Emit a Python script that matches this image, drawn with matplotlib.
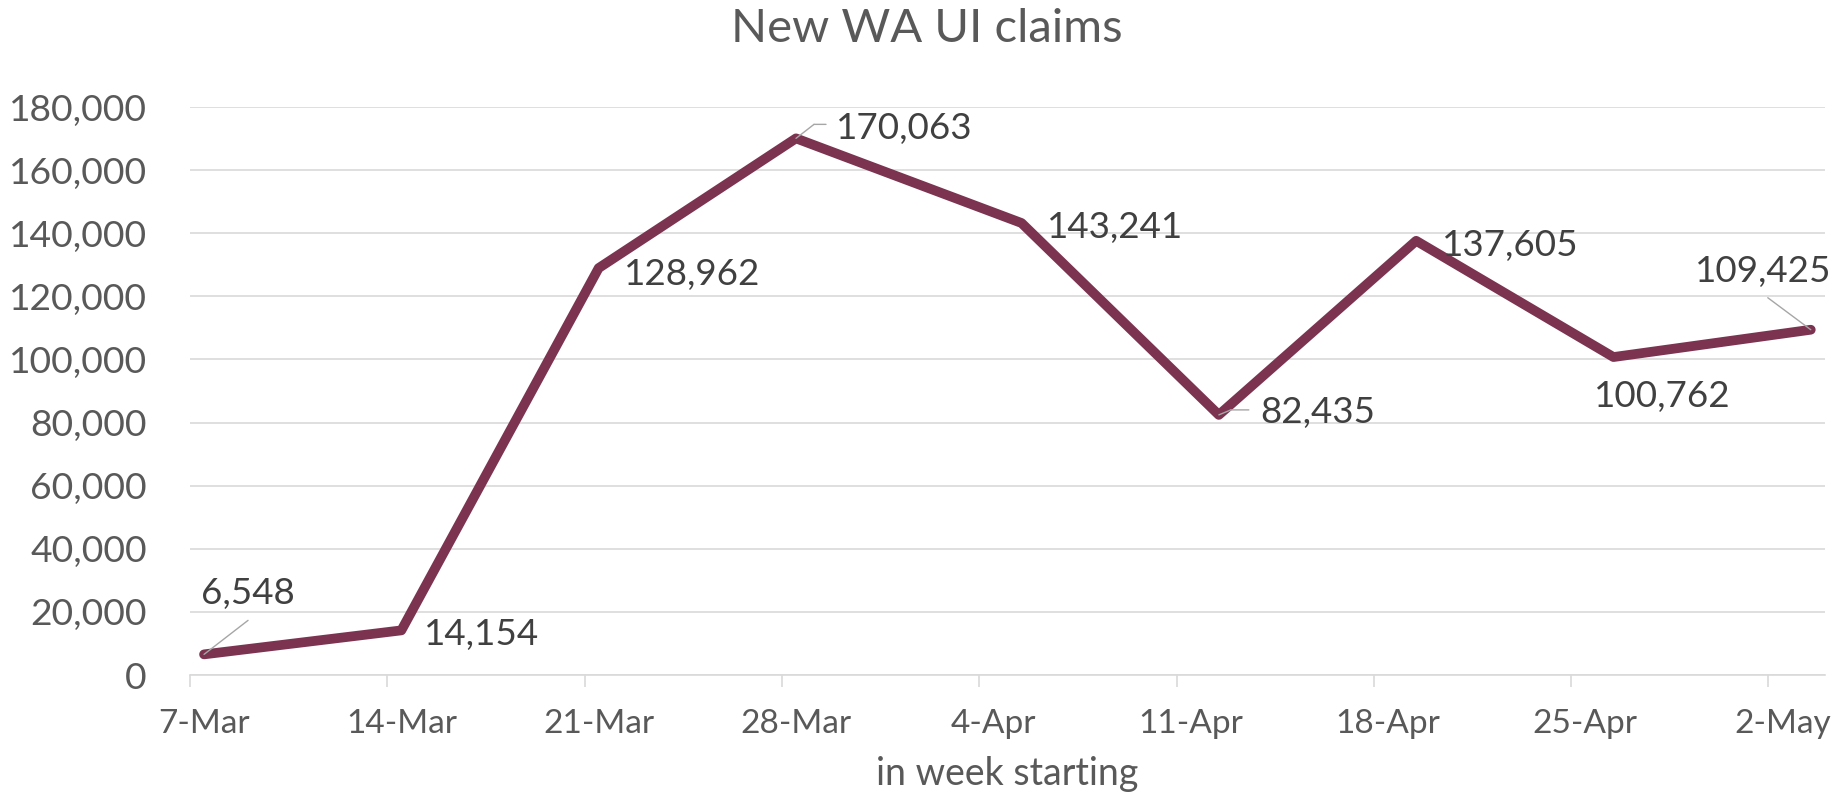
import numpy as np
import matplotlib.pyplot as plt
import matplotlib.dates as mdates
from matplotlib.ticker import FuncFormatter, FixedLocator
from matplotlib.transforms import offset_copy

plt.rcParams['font.family'] = ['Lato', 'DejaVu Sans']

# weekly claims, plotted in the middle of each day slot like Excel's date axis
week_dates = np.array(['2020-03-07', '2020-03-14', '2020-03-21', '2020-03-28', '2020-04-05',
                       '2020-04-12', '2020-04-19', '2020-04-26', '2020-05-03'], dtype='datetime64[D]')
claims = [6548, 14154, 128962, 170063, 143241, 82435, 137605, 100762, 109425]

tick_dates = np.array(['2020-03-07', '2020-03-14', '2020-03-21', '2020-03-28', '2020-04-04',
                       '2020-04-11', '2020-04-18', '2020-04-25', '2020-05-02'], dtype='datetime64[D]')
tick_labels = ['7-Mar', '14-Mar', '21-Mar', '28-Mar', '4-Apr', '11-Apr', '18-Apr', '25-Apr', '2-May']

y_ticks = np.arange(0, 180001, 20000)

# label placement: pixel offset from the point, horizontal alignment
label_offsets = [(-3, 50, 'left'), (23, -15, 'left'), (25, -17, 'left'), (40, -1, 'left'),
                 (25, -15, 'left'), (41, -8, 'left'), (26, -15, 'left'), (49, -50, 'center'),
                 (21, 48, 'right')]
leaders = {0: [(0, 0), (44, 34)],
           3: [(0, 0), (18, 14), (30, 14)],
           5: [(0, 0), (12, 5), (30, 5)],
           8: [(0, 0), (-43, 32)]}

LINE = '#7B3350'
GRID = '#D9D9D9'
TEXT = '#595959'
LABEL = '#404040'
LEADER = '#A6A6A6'

fig = plt.figure(figsize=(18.37, 7.95), dpi=100)
ax = fig.add_axes([0.1034, 0.1509, 0.890, 0.7145])

x = mdates.date2num(week_dates) + 0.5
ax.plot(x, claims, color=LINE, lw=7, solid_joinstyle='round', solid_capstyle='round',
        zorder=3, clip_on=False)

x0 = mdates.date2num(tick_dates[0])
x1 = mdates.date2num(week_dates[-1] + np.timedelta64(1, 'D'))
ax.set_xlim(x0, x1)
ax.set_ylim(0, 180000)

ax.yaxis.set_major_locator(FixedLocator(y_ticks))
ax.yaxis.set_major_formatter(FuncFormatter(lambda v, p: f'{v:,.0f}'))
ax.grid(axis='y', color=GRID, lw=1.2)
ax.set_axisbelow(True)

for s in ['top', 'right', 'left']:
    ax.spines[s].set_visible(False)
ax.spines['bottom'].set_color(GRID)
ax.spines['bottom'].set_linewidth(1.2)

ax.tick_params(axis='y', length=0, pad=31, labelsize=26.8, labelcolor=TEXT)

tx = mdates.date2num(tick_dates)
ax.set_xticks(tx)
ax.set_xticks(tx + 0.5, minor=True)
ax.set_xticklabels(tick_labels, minor=True)
ax.tick_params(axis='x', which='major', length=8.6, width=1.2, color=GRID,
               direction='out', labelbottom=False)
ax.tick_params(axis='x', which='minor', length=0, pad=24.5, labelsize=24, labelcolor=TEXT)

# data labels
for i, (xi, yi) in enumerate(zip(x, claims)):
    dx, dy, ha = label_offsets[i]
    ax.annotate(f'{yi:,}', xy=(xi, yi), xytext=(dx, dy), textcoords='offset pixels',
                ha=ha, va='baseline', fontsize=26.5, color=LABEL, annotation_clip=False)
    pts = leaders.get(i)
    if pts:
        for a, b in zip(pts[:-1], pts[1:]):
            ax.annotate('', xy=(xi, yi),
                        xycoords=offset_copy(ax.transData, fig=fig, x=a[0], y=a[1], units='dots'),
                        xytext=(b[0] - a[0], b[1] - a[1]), textcoords='offset pixels',
                        arrowprops=dict(arrowstyle='-', color=LEADER, lw=1,
                                        shrinkA=0, shrinkB=0), zorder=4)

fig.text(0.5046, 1 - 41.7 / 795, 'New WA UI claims', ha='center', va='baseline',
         fontsize=34, color=TEXT)

# kept just inside the bottom edge so the descender is not clipped
ax.set_xlabel('in week starting', fontsize=27, color=TEXT)
ax.xaxis.label.set_va('baseline')
ax.xaxis.set_label_coords(0.5, (675 - 785) / 568)

fig.savefig('out.png', dpi=100)
